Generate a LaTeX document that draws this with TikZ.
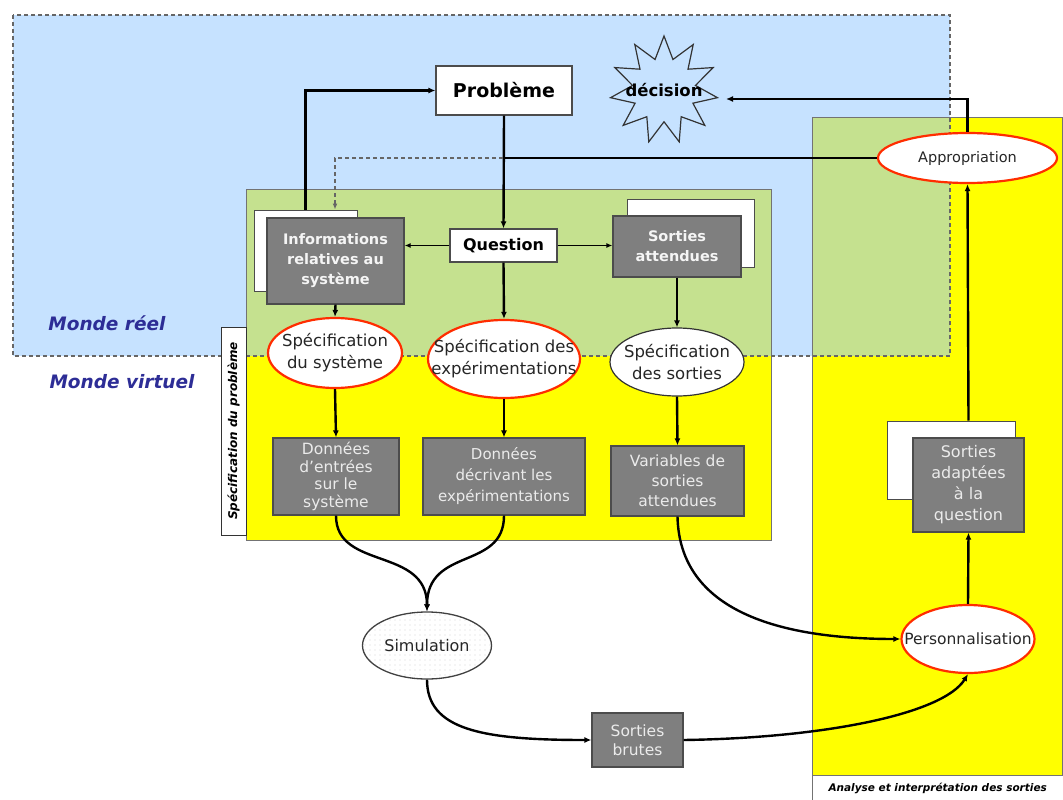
\documentclass[tikz,border=0pt]{standalone}
\usepackage{fontspec}
\setmainfont{DejaVu Sans}
\usetikzlibrary{shapes.geometric,arrows.meta,patterns.meta,calc}
\definecolor{bluebg}{RGB}{198,226,255}
\definecolor{greenbg}{RGB}{197,225,143}
\definecolor{yel}{RGB}{255,255,0}
\definecolor{redb}{RGB}{255,45,0}
\definecolor{monde}{RGB}{45,45,150}
\definecolor{gfill}{RGB}{127,127,127}
\definecolor{gtext}{RGB}{235,235,235}
\begin{document}
\begin{tikzpicture}[x=1pt,y=-1pt,
  arr/.style={-{Latex[length=7pt,width=6pt]}, line width=2.4pt},
  thinarr/.style={-{Latex[length=6pt,width=5pt]}, line width=1.4pt},
  gbox/.style={rectangle, draw=black!70, fill=gfill, line width=1.2pt, inner sep=0pt, align=center, text=gtext, font=\fontsize{15.5}{19}\selectfont},
  gboxb/.style={gbox, font=\fontsize{14.5}{20}\selectfont\bfseries, text=white!96!black},
  wbox/.style={rectangle, draw=black!70, fill=white, line width=1pt, inner sep=0pt},
  ell/.style={ellipse, inner xsep=-40pt, inner ysep=-15pt, align=center, text=black!85},
  rell/.style={ell, draw=redb, line width=2.2pt, fill=white, font=\fontsize{16.5}{22}\selectfont},
  region/.style={draw=black!55, line width=0.9pt}
]
\useasboundingbox (0,0) rectangle (1063,800);
% regions
\fill[bluebg] (13,15) rectangle (950,356);
\draw[region, fill=yel] (246,189) rectangle (771,540);
\draw[region, fill=yel] (812,117) rectangle (1062.5,775);
\fill[greenbg] (246.5,189.5) rectangle (770.5,356);
\fill[greenbg] (812.5,117.5) rectangle (950,356);
\draw[region] (246,189) rectangle (771,540);
\draw[region] (812,117) rectangle (1062.5,775);
\draw[black!60, dash pattern=on 4pt off 3pt, line width=1.5pt] (13,15) rectangle (950,356);

\node[region, fill=white, minimum width=250.5pt, minimum height=25pt, inner sep=0pt, anchor=north west, font=\fontsize{10.5}{12}\selectfont\bfseries\itshape] (anal) at (812,775) {Analyse et interprétation des sorties};
\node[draw=black!80, fill=white, line width=1pt, rotate=90, minimum width=208pt, minimum height=25pt, inner sep=0pt, font=\fontsize{12}{14}\selectfont\bfseries\itshape] (spec) at (233.5,431) {Spécification du problème};

\node[text=monde, font=\fontsize{18.5}{22}\selectfont\bfseries\itshape] (mreel) at (107,323) {Monde réel};
\node[text=monde, font=\fontsize{18.5}{22}\selectfont\bfseries\itshape] (mvirt) at (122,382) {Monde virtuel};

% nodes
\node[wbox, line width=1.2pt, minimum width=136pt, minimum height=49pt, font=\fontsize{19}{22}\selectfont\bfseries] (prob) at (504,90.5) {Problème};
\node[star, star points=11, star point ratio=1.7, draw=black!80, line width=1.2pt, fill=bluebg, minimum size=108pt, inner sep=0pt] (dec) at (664,90) {};
\node[font=\fontsize{16.5}{18}\selectfont\bfseries] (dectxt) at (dec.center) {décision};
\coordinate (decin) at ($(dec.center)+(62,9)$);

\node[wbox, line width=1.2pt, minimum width=107pt, minimum height=33pt, font=\fontsize{16}{18}\selectfont\bfseries] (quest) at (503.5,245.5) {Question};

\node[wbox, minimum width=103pt, minimum height=81pt] (infoW) at (305.5,250.5) {};
\node[gboxb, minimum width=137pt, minimum height=86pt] (info) at (335.5,261) {Informations\\relatives au\\système};
\node[wbox, minimum width=127pt, minimum height=68pt] (sortW) at (690.5,233) {};
\node[gboxb, minimum width=128pt, minimum height=61pt] (sort) at (677,246.5) {Sorties\\attendues};

\node[rell, minimum width=134pt, minimum height=70pt] (e1) at (335,353) {Spécification\\du système};
\node[rell, minimum width=152pt, minimum height=78pt] (e2) at (504,359) {Spécification des\\expérimentations};
\node[rell, draw=black!80, line width=1.2pt, minimum width=134pt, minimum height=68pt] (e3) at (677,362) {Spécification\\des sorties};

\node[gbox, font=\fontsize{15.5}{17.5}\selectfont, minimum width=126pt, minimum height=77pt] (d1) at (336,476.5) {Données\\d'entrées\\sur le\\système};
\node[gbox, font=\fontsize{15}{21}\selectfont, minimum width=162pt, minimum height=77pt] (d2) at (504,476.5) {Données\\décrivant les\\expérimentations};
\node[gbox, font=\fontsize{15.5}{20}\selectfont, minimum width=133pt, minimum height=70pt] (d3) at (677.5,481) {Variables de\\sorties\\attendues};

\node[ell, draw=black!75, line width=1.3pt, fill=white, postaction={pattern={Dots[distance=5pt,radius=0.45pt]}, pattern color=black!45}, minimum width=129pt, minimum height=67pt, font=\fontsize{16}{18}\selectfont] (sim) at (427,645.5) {Simulation};
\node[gbox, font=\fontsize{15.5}{19}\selectfont, minimum width=91pt, minimum height=54pt] (brut) at (637.5,740) {Sorties\\brutes};

\node[rell, font=\fontsize{15.5}{18}\selectfont, minimum width=133pt, minimum height=68pt] (pers) at (968,639) {Personnalisation};
\node[wbox, minimum width=128pt, minimum height=78pt] (adW) at (951,460) {};
\node[gbox, font=\fontsize{16}{21}\selectfont, minimum width=111pt, minimum height=94pt] (ad) at (968.5,485) {Sorties\\adaptées\\à la\\question};
\node[rell, font=\fontsize{14.5}{17}\selectfont, minimum width=179pt, minimum height=50pt] (appro) at (967.5,158) {Appropriation};

\coordinate (jA) at (503,158);
\coordinate (jB) at (335,158);

% connectors
\draw[arr] (infoW.north) |- (prob.west);
\draw[arr] (prob.south) -- (quest.north);
\draw[thinarr] (quest.west) -- (quest.west -| info.east);
\draw[thinarr] (quest.east) -- (quest.east -| sort.west);
\draw[arr] (quest.south) -- (e2.north);
\draw[arr] (info.south) -- (e1.north);
\draw[arr] (sort.south) -- (e3.north);
\draw[arr] (e1.south) -- (d1.north);
\draw[arr] (e2.south) -- (d2.north);
\draw[arr] (e3.south) -- (d3.north);
\draw[arr] (d1.south) .. controls ($(d1.south)+(0,55)$) and ($(sim.north)+(0,-65)$) .. (sim.north);
\draw[arr] (d2.south) .. controls ($(d2.south)+(0,55)$) and ($(sim.north)+(0,-65)$) .. (sim.north);
\draw[arr] (d3.south) .. controls ($(d3.south)+(2,95)$) and ($(pers.west)+(-120,0)$) .. (pers.west);
\draw[arr] (sim.south) .. controls ($(sim.south)+(0,50)$) and ($(brut.west)+(-110,0)$) .. (brut.west);
\draw[arr] (brut.east) .. controls ($(brut.east)+(140,-2)$) and ($(pers.south)+(-25,40)$) .. (pers.south);
\draw[arr] (pers.north) -- (ad.south);
\draw[arr] (ad.north |- adW.north) -- (appro.south);
\draw[arr] (appro.north) |- (decin);
\draw[line width=2.4pt] (appro.west) -- (jA);
\draw[black!60, line width=1.6pt, dash pattern=on 4pt off 3pt, -{Latex[length=6pt,width=5pt]}] (jA) -- (jB) -- (jB |- infoW.north);
\end{tikzpicture}
\end{document}
